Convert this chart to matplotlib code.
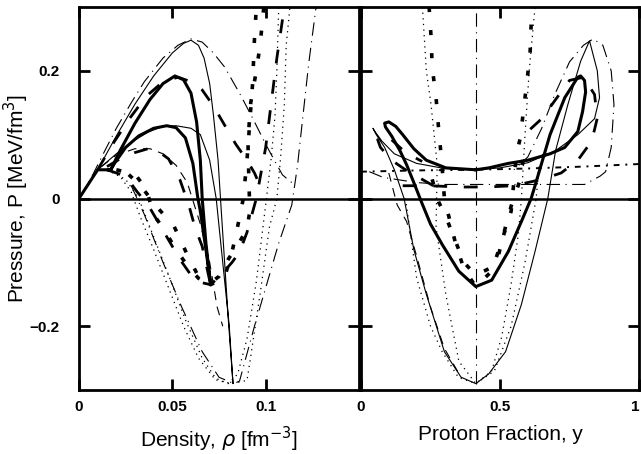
import matplotlib
matplotlib.use("Agg")
import matplotlib.pyplot as plt

plt.rcParams['font.family'] = ['Liberation Sans', 'DejaVu Sans']
plt.rcParams['mathtext.fontset'] = 'dejavusans'

# ---------------- Left panel data: pressure vs density ----------------
rho_thin_solid = [0.0, 0.010, 0.020, 0.030, 0.040, 0.050, 0.056, 0.060, 0.064, 0.067, 0.070, 0.072,
                  0.0745, 0.0758, 0.078, 0.080, 0.0825, 0.0805, 0.077, 0.0735, 0.070, 0.065, 0.060,
                  0.052, 0.045, 0.037, 0.028, 0.020, 0.014, 0.010]
P_thin_solid = [0.0, 0.045, 0.098, 0.148, 0.192, 0.228, 0.243, 0.248, 0.240, 0.220, 0.180, 0.131,
                0.060, 0.0, -0.10, -0.19, -0.29, -0.20, -0.10, 0.0, 0.060, 0.100, 0.110,
                0.114, 0.113, 0.104, 0.088, 0.070, 0.055, 0.045]

rho_thick_solid = [0.0, 0.010, 0.017, 0.022, 0.030, 0.038, 0.045, 0.0514, 0.056, 0.060, 0.063, 0.065,
                   0.066, 0.068, 0.0705, 0.068, 0.065, 0.0637, 0.061, 0.057, 0.052, 0.047, 0.040,
                   0.032, 0.025, 0.019, 0.017]
P_thick_solid = [0.0, 0.045, 0.045, 0.075, 0.118, 0.155, 0.180, 0.192, 0.186, 0.165, 0.120, 0.060,
                 0.0, -0.070, -0.135, -0.080, -0.020, 0.0, 0.055, 0.095, 0.111, 0.114, 0.110,
                 0.098, 0.080, 0.055, 0.045]

rho_dashdot_arch = [0.0, 0.007, 0.013, 0.020, 0.028, 0.035, 0.045, 0.053, 0.060, 0.066, 0.072, 0.078,
                    0.086, 0.093, 0.100, 0.105, 0.109, 0.116]
P_dashdot_arch = [0.0, 0.035, 0.070, 0.110, 0.150, 0.183, 0.220, 0.240, 0.250, 0.245, 0.228, 0.206,
                  0.165, 0.126, 0.085, 0.058, 0.037, 0.020]

rho_dashdot_v = [0.028, 0.035, 0.045, 0.055, 0.066, 0.075, 0.083, 0.086, 0.094, 0.100, 0.107, 0.114,
                 0.117, 0.120, 0.123, 0.127]
P_dashdot_v = [0.020, -0.025, -0.100, -0.170, -0.240, -0.280, -0.290, -0.286, -0.200, -0.140, -0.070,
               -0.010, 0.050, 0.130, 0.210, 0.300]

rho_thin_dot_a = [0.015, 0.022, 0.028, 0.033, 0.040, 0.048, 0.056, 0.064, 0.072, 0.080, 0.085, 0.090,
                  0.095, 0.100, 0.103, 0.105, 0.106, 0.107]
P_thin_dot_a = [0.045, 0.035, 0.010, -0.030, -0.080, -0.140, -0.200, -0.250, -0.280, -0.290, -0.275,
                -0.220, -0.130, -0.010, 0.064, 0.130, 0.200, 0.300]

rho_thin_dot_b = [0.015, 0.025, 0.032, 0.040, 0.048, 0.057, 0.066, 0.074, 0.082, 0.090, 0.0916, 0.097,
                  0.102, 0.106, 0.108, 0.110, 0.111, 0.113]
P_thin_dot_b = [0.045, 0.030, 0.0, -0.060, -0.120, -0.190, -0.250, -0.285, -0.290, -0.285, -0.255,
                -0.150, -0.045, 0.0, 0.064, 0.147, 0.240, 0.300]

rho_thick_dot_a = [0.015, 0.025, 0.033, 0.042, 0.051, 0.058, 0.065, 0.0705, 0.078, 0.0825, 0.086,
                   0.088, 0.090, 0.0915, 0.093, 0.094, 0.095]
P_thick_dot_a = [0.045, 0.042, 0.020, -0.014, -0.044, -0.088, -0.128, -0.135, -0.124, -0.077, -0.030,
                 0.0, 0.060, 0.120, 0.180, 0.250, 0.300]

rho_thick_dot_b = [0.020, 0.030, 0.036, 0.040, 0.046, 0.052, 0.058, 0.064, 0.070, 0.075, 0.080, 0.086,
                   0.090, 0.0915, 0.091, 0.0905, 0.092, 0.095, 0.097, 0.099]
P_thick_dot_b = [0.045, 0.038, 0.015, -0.025, -0.051, -0.080, -0.105, -0.125, -0.133, -0.122, -0.095,
                 -0.068, -0.048, -0.020, 0.030, 0.090, 0.150, 0.200, 0.240, 0.300]

rho_thick_dash_a = [0.010, 0.018, 0.027, 0.036, 0.045, 0.053, 0.060, 0.066, 0.072, 0.078, 0.084, 0.090,
                    0.094, 0.097]
P_thick_dash_a = [0.045, 0.085, 0.125, 0.160, 0.183, 0.190, 0.183, 0.170, 0.145, 0.115, 0.085, 0.060,
                  0.040, 0.020]

rho_thick_dash_b = [0.015, 0.025, 0.031, 0.037, 0.045, 0.054, 0.060, 0.066, 0.0705, 0.076, 0.082, 0.086,
                    0.090, 0.095, 0.100, 0.103, 0.106, 0.110]
P_thick_dash_b = [0.045, 0.035, 0.011, -0.010, -0.050, -0.095, -0.120, -0.132, -0.135, -0.120, -0.100,
                  -0.084, -0.053, 0.0, 0.080, 0.150, 0.220, 0.300]

rho_thick_dash_c = [0.015, 0.022, 0.030, 0.037, 0.042, 0.048, 0.054, 0.059, 0.062, 0.066, 0.0705]
P_thick_dash_c = [0.050, 0.062, 0.072, 0.078, 0.075, 0.062, 0.030, -0.012, -0.044, -0.075, -0.135]

rho_thin_dash = [0.012, 0.020, 0.030, 0.038, 0.045, 0.052, 0.058, 0.065, 0.070, 0.074, 0.077]
P_thin_dash = [0.050, 0.068, 0.078, 0.078, 0.070, 0.052, 0.025, -0.040, -0.100, -0.170, -0.200]

# ---------------- Right panel data: pressure vs proton fraction ----------------
yf_thin_solid = [0.413, 0.50, 0.60, 0.70, 0.78, 0.84, 0.858, 0.85, 0.822, 0.79, 0.744, 0.70, 0.672,
                 0.626, 0.577, 0.52, 0.459, 0.413, 0.36, 0.30, 0.235, 0.19, 0.155, 0.12, 0.085,
                 0.055, 0.043, 0.050, 0.075, 0.12, 0.20, 0.30, 0.413]
Py_thin_solid = [0.045, 0.048, 0.056, 0.075, 0.100, 0.125, 0.158, 0.200, 0.247, 0.215, 0.147, 0.075,
                 0.0, -0.083, -0.166, -0.240, -0.275, -0.290, -0.280, -0.240, -0.150, -0.080, 0.0,
                 0.045, 0.080, 0.100, 0.110, 0.105, 0.090, 0.070, 0.055, 0.047, 0.045]

yf_thick_solid = [0.413, 0.46, 0.53, 0.60, 0.68, 0.733, 0.78, 0.797, 0.808, 0.804, 0.79, 0.78, 0.733,
                  0.68, 0.626, 0.612, 0.577, 0.53, 0.47, 0.413, 0.352, 0.292, 0.25, 0.217, 0.19,
                  0.164, 0.14, 0.11, 0.088, 0.085, 0.10, 0.125, 0.15, 0.19, 0.235, 0.305, 0.413]
Py_thick_solid = [0.045, 0.048, 0.055, 0.060, 0.070, 0.080, 0.105, 0.136, 0.167, 0.185, 0.192, 0.190,
                  0.158, 0.100, 0.020, 0.0, -0.036, -0.083, -0.128, -0.138, -0.114, -0.072, -0.040,
                  -0.005, 0.025, 0.053, 0.075, 0.098, 0.112, 0.118, 0.120, 0.113, 0.100, 0.078,
                  0.060, 0.048, 0.045]

yf_dashdot_vert = [0.413, 0.413]
Py_dashdot_vert = [-0.29, 0.30]

yf_dashdot_loop = [0.03, 0.08, 0.20, 0.30, 0.45, 0.60, 0.75, 0.804, 0.86, 0.88, 0.90, 0.91, 0.90, 0.87,
                   0.835, 0.80, 0.75, 0.697, 0.65, 0.60, 0.55]
Py_dashdot_loop = [0.042, 0.033, 0.025, 0.022, 0.022, 0.022, 0.022, 0.022, 0.035, 0.042, 0.080, 0.147,
                   0.200, 0.240, 0.250, 0.240, 0.214, 0.163, 0.110, 0.065, 0.045]

yf_flat_dashdot = [0.0, 0.2, 0.4, 0.6, 0.8, 1.0]
Py_flat_dashdot = [0.042, 0.044, 0.045, 0.047, 0.050, 0.054]

yf_thin_dot_a = [0.221, 0.235, 0.252, 0.274, 0.270, 0.305, 0.352, 0.413, 0.47, 0.506, 0.54, 0.566,
                 0.577, 0.59, 0.605, 0.626]
Py_thin_dot_a = [0.300, 0.200, 0.147, 0.053, -0.045, -0.150, -0.255, -0.290, -0.270, -0.217, -0.134,
                 -0.056, 0.0, 0.100, 0.200, 0.300]

yf_thin_dot_b = [0.16, 0.20, 0.25, 0.292, 0.35, 0.413, 0.48, 0.54, 0.59, 0.63, 0.64]
Py_thin_dot_b = [0.0, -0.124, -0.200, -0.240, -0.280, -0.290, -0.270, -0.200, -0.100, 0.0, 0.050]

yf_thick_dot_a = [0.245, 0.252, 0.256, 0.27, 0.28, 0.29, 0.30, 0.317, 0.34, 0.37, 0.413, 0.47, 0.506,
                  0.54, 0.559, 0.573, 0.584, 0.594, 0.608, 0.612, 0.615]
Py_thick_dot_a = [0.300, 0.253, 0.206, 0.158, 0.105, 0.060, 0.0, -0.030, -0.070, -0.110, -0.138,
                  -0.114, -0.067, -0.020, 0.069, 0.095, 0.136, 0.173, 0.225, 0.272, 0.300]

yf_thick_dot_b = [0.256, 0.28, 0.305, 0.327, 0.37, 0.413, 0.46, 0.495, 0.52, 0.54, 0.573, 0.59]
Py_thick_dot_b = [0.030, -0.006, -0.028, -0.053, -0.100, -0.120, -0.110, -0.088, -0.044, -0.012,
                  0.030, 0.080]

yf_thick_dash_a = [0.15, 0.25, 0.35, 0.45, 0.55, 0.65, 0.72, 0.78, 0.83, 0.85, 0.84, 0.80, 0.75,
                   0.70, 0.65, 0.60, 0.566]
Py_thick_dash_a = [0.020, 0.020, 0.018, 0.018, 0.020, 0.030, 0.040, 0.060, 0.090, 0.126, 0.163,
                   0.190, 0.185, 0.155, 0.125, 0.105, 0.092]

yf_thick_dash_b = [0.26, 0.22, 0.16, 0.11, 0.07, 0.06, 0.075, 0.11, 0.16, 0.22]
Py_thick_dash_b = [0.020, 0.030, 0.045, 0.060, 0.080, 0.092, 0.100, 0.092, 0.072, 0.058]

yf_thin_dash = [0.10, 0.13, 0.164, 0.20, 0.25, 0.30, 0.36]
Py_thin_dash = [0.040, -0.010, -0.036, -0.090, -0.170, -0.235, -0.280]

# ---------------- styles ----------------
thin_solid = dict(color='black', lw=0.8, ls='-')
thick_solid = dict(color='black', lw=2.2, ls='-')
thin_dot = dict(color='black', lw=0.9, ls=(0, (1, 3.5)))
thick_dot = dict(color='black', lw=2.6, ls=(0, (1.4, 5.0)))
thin_dashdot = dict(color='black', lw=0.8, ls=(0, (12, 5, 1, 5)))
thick_dash = dict(color='black', lw=2.0, ls=(0, (5, 6)))
thin_dash = dict(color='black', lw=0.8, ls=(0, (8, 6)))
flat_dashdot = dict(color='black', lw=1.4, ls=(0, (3, 3, 1, 3)))

fig = plt.figure(figsize=(6.41, 4.54), dpi=100)
axL = fig.add_axes([79 / 641, 1 - 390 / 454, 280 / 641, 383 / 454])
axR = fig.add_axes([361 / 641, 1 - 390 / 454, 278 / 641, 383 / 454])

axL.plot(rho_thin_solid, P_thin_solid, **thin_solid)
axL.plot(rho_thick_solid, P_thick_solid, **thick_solid)
axL.plot(rho_dashdot_arch, P_dashdot_arch, **thin_dashdot)
axL.plot(rho_dashdot_v, P_dashdot_v, **thin_dashdot)
axL.plot(rho_thin_dot_a, P_thin_dot_a, **thin_dot)
axL.plot(rho_thin_dot_b, P_thin_dot_b, **thin_dot)
axL.plot(rho_thick_dot_a, P_thick_dot_a, **thick_dot)
axL.plot(rho_thick_dot_b, P_thick_dot_b, **thick_dot)
axL.plot(rho_thick_dash_a, P_thick_dash_a, **thick_dash)
axL.plot(rho_thick_dash_b, P_thick_dash_b, **thick_dash)
axL.plot(rho_thick_dash_c, P_thick_dash_c, **thick_dash)
axL.plot(rho_thin_dash, P_thin_dash, **thin_dash)

axR.plot(yf_thin_solid, Py_thin_solid, **thin_solid)
axR.plot(yf_thick_solid, Py_thick_solid, **thick_solid)
axR.plot(yf_dashdot_vert, Py_dashdot_vert, **thin_dashdot)
axR.plot(yf_dashdot_loop, Py_dashdot_loop, **thin_dashdot)
axR.plot(yf_flat_dashdot, Py_flat_dashdot, **flat_dashdot)
axR.plot(yf_thin_dot_a, Py_thin_dot_a, **thin_dot)
axR.plot(yf_thin_dot_b, Py_thin_dot_b, **thin_dot)
axR.plot(yf_thick_dot_a, Py_thick_dot_a, **thick_dot)
axR.plot(yf_thick_dot_b, Py_thick_dot_b, **thick_dot)
axR.plot(yf_thick_dash_a, Py_thick_dash_a, **thick_dash)
axR.plot(yf_thick_dash_b, Py_thick_dash_b, **thick_dash)
axR.plot(yf_thin_dash, Py_thin_dash, **thin_dash)

xticks_L = [0, 0.05, 0.1]
xticklabels_L = ['0', '0.05', '0.1']
xticks_R = [0, 0.5, 1]
xticklabels_R = ['0', '0.5', '1']
yticks = [-0.2, 0, 0.2]
yticklabels = ['\u22120.2', '0', '0.2']

for ax in (axL, axR):
    ax.axhline(0, color='black', lw=1.8)
    ax.set_ylim(-0.3, 0.3)
    for s in ax.spines.values():
        s.set_linewidth(2.0)
    ax.tick_params(direction='in', length=8, width=2, top=True, right=True,
                   labelsize=11)
    ax.set_yticks(yticks)

axL.set_xlim(0, 0.15)
axL.set_xticks(xticks_L)
axL.set_xticklabels(xticklabels_L, fontweight='bold')
axL.set_yticklabels(yticklabels, fontweight='bold')
axL.tick_params(axis='y', pad=14)
axL.tick_params(axis='x', pad=7)
axL.set_xlabel('Density, $\\rho$ [fm$^{-3}$]', fontsize=15, labelpad=8)
axL.set_ylabel('Pressure, P [MeV/fm$^3$]', fontsize=15)
axL.yaxis.set_label_coords(-0.172, 0.5)

axR.set_xlim(0, 1)
axR.set_xticks(xticks_R)
axR.set_xticklabels(xticklabels_R, fontweight='bold')
axR.get_xticklabels()[-1].set_horizontalalignment('right')
axR.set_yticklabels([])
axR.tick_params(axis='x', pad=7)
axR.set_xlabel('Proton Fraction, y', fontsize=15, labelpad=8)

fig.savefig('out.png', dpi=100)
